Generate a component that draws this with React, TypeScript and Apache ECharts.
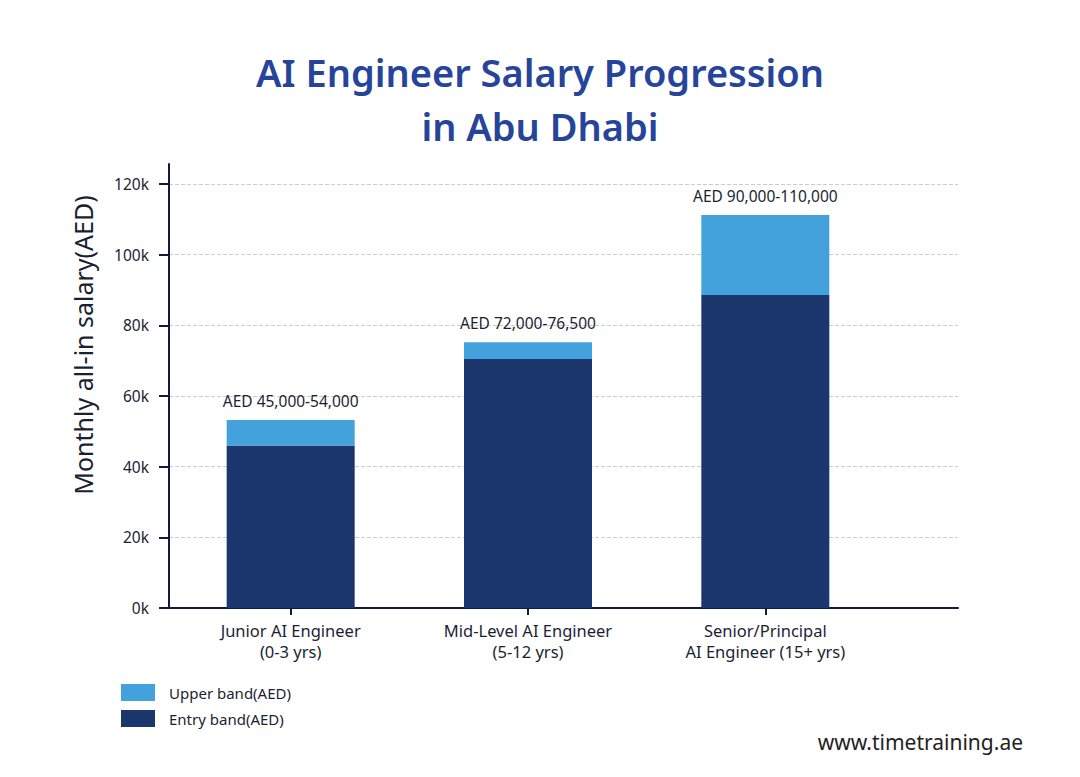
import React, { useEffect, useRef } from "react";
import * as echarts from "echarts";

const categories = ["Junior AI Engineer\n(0-3 yrs)", "Mid-Level AI Engineer\n(5-12 yrs)", "Senior/Principal\nAI Engineer (15+ yrs)"];
const entryBand = [46000, 70500, 88600];
const upperBand = [7200, 4700, 22600];
const rangeLabels = ["AED 45,000-54,000", "AED 72,000-76,500", "AED 90,000-110,000"];
const yTicks = { min: 0, max: 120000, interval: 20000 };

const FONT = "'Noto Sans', sans-serif";
const DARK = "#1b376d";
const LIGHT = "#43a1db";
const AXIS = "#0f1c3b";
const TEXT = "#1a1f33";

export default function App() {
  const ref = useRef<HTMLDivElement>(null);
  useEffect(() => {
    if (!ref.current) return;
    const chart = echarts.init(ref.current, null, { renderer: "svg" });
    chart.setOption({
      animation: false,
      backgroundColor: "#ffffff",
      textStyle: { fontFamily: FONT },
      title: {
        text: "AI Engineer Salary Progression\nin Abu Dhabi",
        left: "center",
        top: 40,
        textStyle: { fontFamily: FONT, fontSize: 38, fontWeight: 600, lineHeight: 54, color: "#27449b" },
      },
      legend: {
        orient: "vertical",
        left: 121,
        top: 684,
        padding: 0,
        itemWidth: 34,
        itemHeight: 17,
        itemGap: 9,
        icon: "rect",
        data: [
          { name: "Upper band(AED)", itemStyle: { color: LIGHT } },
          { name: "Entry band(AED)", itemStyle: { color: DARK } },
        ],
        textStyle: { fontFamily: FONT, fontSize: 15, color: TEXT, padding: [0, 0, 0, 9] },
      },
      grid: [
        { left: 169, right: 122, top: 164, bottom: 169 },
        { left: 169, right: 122, top: 184, bottom: 169 },
        { left: 172, width: 712, top: 184, bottom: 169 },
      ],
      xAxis: [
        { gridIndex: 0, type: "value", show: false },
        {
          gridIndex: 1,
          type: "value",
          axisLine: { show: true, onZero: false, lineStyle: { color: AXIS, width: 2 } },
          axisTick: { show: false },
          axisLabel: { show: false },
          splitLine: { show: false },
        },
        {
          gridIndex: 2,
          type: "category",
          data: categories,
          axisLine: { show: false },
          axisTick: { show: true, alignWithLabel: true, length: 7, lineStyle: { color: AXIS, width: 2 } },
          axisLabel: { margin: 12, fontFamily: FONT, fontSize: 16.5, lineHeight: 21, color: TEXT },
        },
      ],
      yAxis: [
        {
          gridIndex: 0,
          type: "value",
          min: 0,
          max: 126000,
          axisLine: { show: true, lineStyle: { color: AXIS, width: 2 } },
          axisTick: { show: false },
          axisLabel: { show: false },
          splitLine: { show: false },
        },
        {
          gridIndex: 1,
          type: "value",
          min: yTicks.min,
          max: yTicks.max,
          interval: yTicks.interval,
          axisLine: { show: false },
          axisTick: { show: true, length: 10, lineStyle: { color: AXIS, width: 2 } },
          axisLabel: {
            margin: 20,
            fontFamily: FONT,
            fontSize: 15.5,
            color: TEXT,
            formatter: (v: number) => `${v / 1000}k`,
          },
          splitLine: { show: true, lineStyle: { color: "#cccccc", type: "dashed", width: 1 } },
        },
        {
          gridIndex: 2,
          type: "value",
          min: yTicks.min,
          max: yTicks.max,
          show: false,
        },
      ],
      series: [
        {
          name: "Entry band(AED)",
          type: "bar",
          xAxisIndex: 2,
          yAxisIndex: 2,
          stack: "salary",
          barWidth: 128,
          data: entryBand,
          itemStyle: { color: DARK },
        },
        {
          name: "Upper band(AED)",
          type: "bar",
          xAxisIndex: 2,
          yAxisIndex: 2,
          stack: "salary",
          barWidth: 128,
          data: upperBand,
          itemStyle: { color: LIGHT },
          label: {
            show: true,
            position: "top",
            distance: 11,
            fontFamily: FONT,
            fontSize: 15.5,
            color: TEXT,
            formatter: (p: any) => rangeLabels[p.dataIndex],
          },
        },
      ],
      graphic: [
        {
          type: "text",
          x: 83,
          y: 345,
          rotation: Math.PI / 2,
          style: {
            text: "Monthly all-in salary(AED)",
            fontFamily: FONT,
            fontSize: 25,
            fill: TEXT,
            textAlign: "center",
            textVerticalAlign: "middle",
          },
        },
        {
          type: "text",
          right: 57,
          top: 731,
          style: {
            text: "www.timetraining.ae",
            fontFamily: FONT,
            fontSize: 21,
            fill: "#222222",
          },
        },
      ],
    });
    return () => chart.dispose();
  }, []);
  return <div ref={ref} style={{ position: "absolute", left: 0, top: 0, width: 1080, height: 777 }} />;
}
